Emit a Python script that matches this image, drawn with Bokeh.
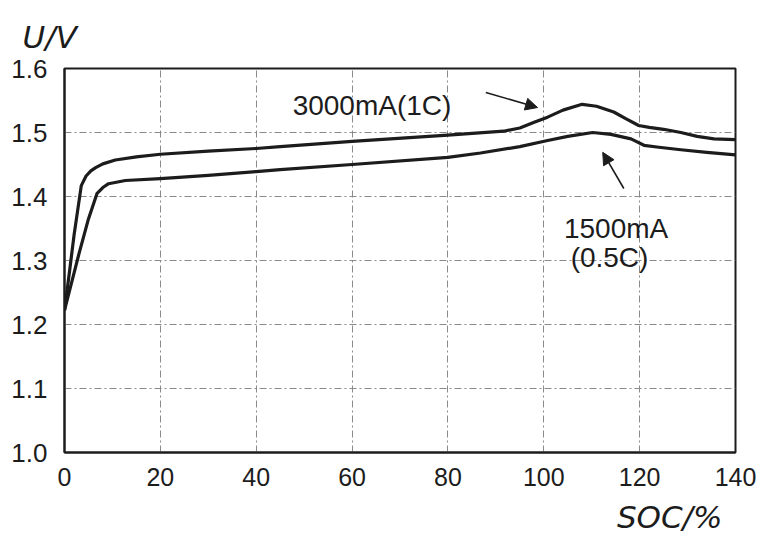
from bokeh.plotting import figure
from bokeh.models import Label, Arrow, NormalHead, FixedTicker, Range1d, Title
from bokeh.embed import file_html
from bokeh.resources import INLINE

# ---- data ----
soc_1c = [0, 1, 2, 3.5, 4.5, 5.5, 6.5, 8, 10.6, 15, 20, 30, 40, 45, 60, 80, 91.6, 95, 98,
          100.8, 104, 108, 111, 114.6, 117, 119.8, 122, 125, 128.6, 132, 135.5, 140]
u_1c = [1.222, 1.28, 1.34, 1.417, 1.432, 1.440, 1.445, 1.451, 1.457, 1.462, 1.466, 1.471,
        1.475, 1.478, 1.486, 1.496, 1.502, 1.507, 1.516, 1.524, 1.535, 1.544, 1.541,
        1.532, 1.522, 1.511, 1.508, 1.505, 1.500, 1.494, 1.490, 1.489]

soc_05c = [0, 3, 5, 6.8, 8, 9.2, 12.7, 20, 30, 40, 45, 60, 80, 86.8, 95, 100.8, 105, 110.2,
           114, 118.2, 120.9, 124, 128.6, 134, 140]
u_05c = [1.222, 1.31, 1.365, 1.405, 1.414, 1.420, 1.425, 1.428, 1.433, 1.439, 1.442, 1.450,
         1.461, 1.468, 1.478, 1.4875, 1.494, 1.500, 1.497, 1.490, 1.480, 1.477, 1.473,
         1.469, 1.465]

x_ticks = [0, 20, 40, 60, 80, 100, 120, 140]
y_ticks = [1.0, 1.1, 1.2, 1.3, 1.4, 1.5, 1.6]
y_tick_labels = ["1.0", "1.1", "1.2", "1.3", "1.4", "1.5", "1.6"]

label_1c = "3000mA(1C)"
label_05c_a = "1500mA"
label_05c_b = "(0.5C)"
y_title = "U/V"
x_title = "SOC/%"

INK = "#1c1c1c"

p = figure(width=760, height=545, output_backend="svg", toolbar_location=None,
           x_range=Range1d(0, 140), y_range=Range1d(1.0, 1.6),
           min_border_left=64, min_border_right=25, min_border_top=68, min_border_bottom=93)
p.background_fill_color = "white"
p.border_fill_color = "white"
p.outline_line_color = INK
p.outline_line_width = 2
p.outline_line_alpha = 1

for ax in (p.xaxis[0], p.yaxis[0]):
    ax.axis_line_color = INK
    ax.axis_line_width = 2
    ax.major_tick_line_color = None
    ax.minor_tick_line_color = None
    ax.major_label_text_font = "Liberation Sans"
    ax.major_label_text_color = INK

p.xaxis.ticker = FixedTicker(ticks=x_ticks)
p.yaxis.ticker = FixedTicker(ticks=y_ticks)
p.yaxis.major_label_overrides = {t: l for t, l in zip(y_ticks, y_tick_labels)}
p.xaxis.major_label_text_font_size = "25px"
p.yaxis.major_label_text_font_size = "26px"
p.xaxis.major_label_standoff = 9
p.yaxis.major_label_standoff = 11

for g in (p.xgrid[0], p.ygrid[0]):
    g.grid_line_color = "#8a8a8a"
    g.grid_line_width = 1
    g.grid_line_dash = "7 3 2 3"

p.line(soc_1c, u_1c, line_color=INK, line_width=3.2, line_join="round")
p.line(soc_05c, u_05c, line_color=INK, line_width=3.2, line_join="round")

p.add_layout(Arrow(end=NormalHead(size=12, fill_color=INK, line_color=INK, line_width=1),
                   x_start=87.9, y_start=1.5625, x_end=98.7, y_end=1.539,
                   line_color=INK, line_width=1.6))
p.add_layout(Arrow(end=NormalHead(size=12, fill_color=INK, line_color=INK, line_width=1),
                   x_start=116.7, y_start=1.4125, x_end=112.3, y_end=1.469,
                   line_color=INK, line_width=1.6))

ann_font = "Liberation Sans"
p.add_layout(Label(x=47.6, y=1.5422, text=label_1c, text_font=ann_font, text_font_size="28px",
                   text_color=INK, text_baseline="alphabetic"))
p.add_layout(Label(x=104.2, y=1.350, text=label_05c_a, text_font=ann_font, text_font_size="28px",
                   text_color=INK, text_baseline="alphabetic"))
p.add_layout(Label(x=105.6, y=1.3047, text=label_05c_b, text_font=ann_font, text_font_size="28px",
                   text_color=INK, text_baseline="alphabetic"))

# axis titles as plot titles placed in the border panels
p.add_layout(Title(text=y_title, align="left", offset=-42, standoff=28,
                   text_font="DejaVu Sans", text_font_size="31px",
                   text_font_style="italic", text_color=INK), "above")
p.add_layout(Title(text=x_title, align="right", offset=13, standoff=16,
                   text_font="DejaVu Sans", text_font_size="31px",
                   text_font_style="italic", text_color=INK), "below")

open("out.html", "w").write(file_html(p, INLINE))
